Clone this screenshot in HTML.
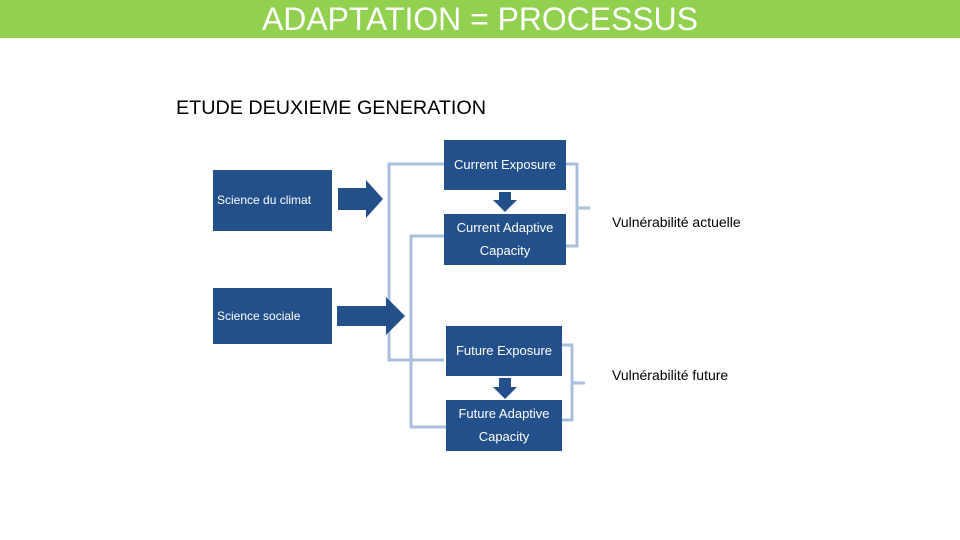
<!DOCTYPE html>
<html><head><meta charset="utf-8"><style>
html,body{margin:0;padding:0;background:#fff;width:960px;height:540px;overflow:hidden}
</style></head><body>
<svg width="960" height="540" viewBox="0 0 960 540" xmlns="http://www.w3.org/2000/svg" font-family="Liberation Sans, sans-serif">
<rect x="0" y="0" width="960" height="38" fill="#92d050"/>
<text x="262" y="30" font-size="32" fill="#fff" textLength="436" lengthAdjust="spacingAndGlyphs">ADAPTATION = PROCESSUS</text>
<text x="176" y="114" font-size="19" fill="#000" textLength="310" lengthAdjust="spacingAndGlyphs">ETUDE DEUXIEME GENERATION</text>

<g fill="none" stroke="#a9bfdc" stroke-width="3">
<path d="M444 164 H389 V360 H444"/>
<path d="M444 236 H411 V427 H446"/>
<path d="M566 164 H577 V246 H566 M577 208 H590"/>
<path d="M562 345 H572 V420 H562 M572 383 H585"/>
</g>

<g fill="#23508b">
<rect x="213" y="170" width="119" height="61"/>
<rect x="213" y="288" width="119" height="56"/>
<rect x="444" y="140" width="122" height="50"/>
<rect x="444" y="214" width="122" height="51"/>
<rect x="446" y="326" width="116" height="50"/>
<rect x="446" y="400" width="116" height="51"/>
<polygon points="338,188 366,188 366,180 383,199 366,218 366,210 338,210"/>
<polygon points="337,306 386,306 386,297 405,316 386,335 386,326 337,326"/>
<polygon points="499,192 511,192 511,200 517,200 505,212 493,200 499,200"/>
<polygon points="499,378 511,378 511,387 517,387 505,399 493,387 499,387"/>
</g>

<g fill="#fff" font-size="12">
<text x="217" y="204">Science du climat</text>
<text x="217" y="320">Science sociale</text>
</g>
<g fill="#fff" font-size="13" text-anchor="middle">
<text x="505" y="169">Current Exposure</text>
<text x="505" y="232">Current Adaptive</text>
<text x="505" y="255">Capacity</text>
<text x="504" y="355">Future Exposure</text>
<text x="504" y="418">Future Adaptive</text>
<text x="504" y="441">Capacity</text>
</g>
<g fill="#000" font-size="14">
<text x="612" y="227">Vulnérabilité actuelle</text>
<text x="612" y="380">Vulnérabilité future</text>
</g>
</svg>
</body></html>
